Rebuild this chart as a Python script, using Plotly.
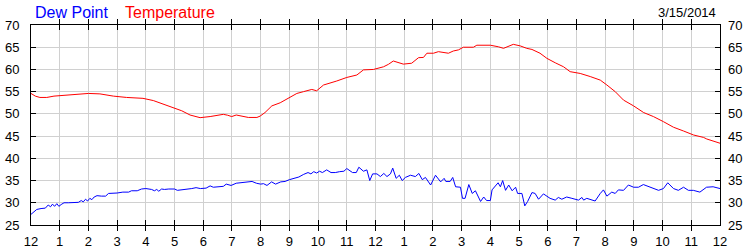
import plotly.graph_objects as go

# ---- data ----
dew_hours = [0.0, 0.1, 0.2, 0.35, 0.5, 0.6, 0.68, 0.75, 0.82, 0.9, 0.97, 1.05, 1.15, 1.3, 1.5, 1.65, 1.75,
             1.82, 1.9, 1.97, 2.05, 2.12, 2.2, 2.3, 2.45, 2.6, 2.7, 2.85, 3.0, 3.2, 3.4, 3.5, 3.7, 3.85,
             4.0, 4.2, 4.3, 4.38, 4.45, 4.55, 4.65, 4.8, 5.0, 5.1, 5.25, 5.4, 5.6, 5.75, 5.9, 6.1, 6.24,
             6.35, 6.55, 6.7, 6.8, 6.97, 7.15, 7.35, 7.5, 7.7, 7.85, 8.0, 8.1, 8.22, 8.38, 8.52, 8.7, 8.85,
             9.0, 9.15, 9.33, 9.5, 9.65, 9.75, 9.85, 9.95, 10.05, 10.15, 10.3, 10.45, 10.6, 10.75, 10.9,
             11.0, 11.2, 11.33, 11.42, 11.58, 11.7, 11.8, 11.9, 12.05, 12.17, 12.29, 12.4, 12.52, 12.6,
             12.72, 12.83, 12.93, 13.04, 13.22, 13.39, 13.51, 13.63, 13.74, 13.92, 14.09, 14.27, 14.39,
             14.45, 14.6, 14.69, 14.79, 14.96, 15.03, 15.12, 15.25, 15.37, 15.48, 15.66, 15.77, 15.87,
             16.0, 16.06, 16.27, 16.35, 16.43, 16.53, 16.64, 16.76, 16.88, 16.95, 17.1, 17.2, 17.3, 17.45,
             17.56, 17.68, 17.85, 17.97, 18.08, 18.26, 18.37, 18.49, 18.66, 18.84, 19.07, 19.19, 19.25,
             19.36, 19.65, 19.83, 19.94, 20.06, 20.23, 20.35, 20.46, 20.64, 20.81, 20.99, 21.16, 21.33,
             21.51, 21.86, 22.03, 22.18, 22.38, 22.55, 22.73, 22.9, 23.07, 23.3, 23.53, 23.76, 24.0]
dew_point = [27.4, 28.0, 28.5, 28.7, 28.8, 29.5, 29.1, 29.7, 29.2, 29.8, 29.2, 29.6, 30.0, 30.0, 30.0, 30.1,
             30.5, 30.2, 30.8, 30.4, 31.0, 30.7, 31.3, 31.6, 31.5, 31.5, 32.1, 32.1, 32.2, 32.4, 32.4, 32.7,
             32.7, 33.1, 33.2, 33.0, 32.7, 33.0, 32.6, 33.1, 33.0, 33.1, 33.1, 32.8, 32.9, 33.1, 33.2, 33.4,
             33.2, 33.3, 33.8, 33.5, 33.6, 33.7, 34.2, 33.9, 34.4, 34.5, 34.7, 34.8, 34.4, 34.2, 34.3, 33.9,
             34.7, 34.2, 34.7, 34.8, 35.2, 35.4, 35.8, 36.4, 36.8, 36.5, 37.0, 36.7, 37.1, 36.8, 37.4, 36.8,
             36.8, 37.0, 37.1, 37.7, 36.8, 36.8, 38.0, 37.1, 37.4, 35.0, 36.5, 36.5, 35.9, 36.6, 35.9, 36.5,
             37.8, 35.5, 36.2, 35.0, 35.7, 36.2, 35.9, 36.6, 35.2, 35.7, 34.0, 36.2, 34.7, 35.5, 34.8, 34.8,
             35.7, 33.6, 33.5, 31.0, 31.0, 34.1, 32.1, 32.7, 30.3, 31.3, 30.5, 30.5, 32.9, 34.5, 33.6, 35.0,
             32.8, 34.0, 32.7, 33.5, 32.1, 32.1, 29.3, 30.3, 32.3, 32.1, 30.8, 32.0, 31.5, 31.0, 30.6, 31.2,
             30.8, 31.3, 31.0, 30.6, 31.2, 30.6, 31.0, 30.4, 32.1, 32.9, 31.5, 32.4, 32.1, 32.9, 32.8, 34.0,
             33.5, 33.5, 34.1, 33.7, 32.8, 33.2, 34.5, 33.2, 32.8, 33.5, 32.8, 32.8, 32.4, 33.5, 33.6, 33.2]

temp_hours = [0.0, 0.15, 0.31, 0.55, 0.8, 1.0, 1.3, 1.6, 2.0, 2.4, 2.87, 3.33, 3.9, 4.26, 4.6, 4.96, 5.25,
              5.54, 5.89, 6.24, 6.7, 6.85, 6.99, 7.15, 7.57, 7.87, 7.98, 8.15, 8.39, 8.68, 8.97, 9.26, 9.49,
              9.78, 9.95, 10.19, 10.65, 11.0, 11.35, 11.58, 11.93, 12.28, 12.45, 12.62, 12.97, 13.26, 13.5,
              13.67, 13.79, 14.02, 14.19, 14.54, 14.71, 14.89, 15.06, 15.41, 15.53, 16.0, 16.28, 16.46,
              16.8, 17.04, 17.27, 17.45, 17.73, 17.97, 18.26, 18.55, 18.78, 19.13, 19.48, 19.83, 20.06,
              20.35, 20.64, 20.99, 21.34, 21.68, 22.03, 22.38, 22.73, 23.08, 23.43, 23.54, 24.0]
temperature = [54.6, 54.0, 53.7, 53.7, 54.0, 54.1, 54.3, 54.5, 54.6, 54.5, 54.0, 53.7, 53.5, 53.0, 52.2,
               51.3, 50.7, 49.75, 49.15, 49.4, 49.9, 49.7, 49.4, 49.75, 49.2, 49.2, 49.5, 50.3, 51.8, 52.5,
               53.5, 54.6, 55.0, 55.5, 55.2, 56.5, 57.4, 58.2, 58.75, 59.9, 60.0, 60.6, 61.15, 61.9, 61.2,
               61.4, 62.65, 62.7, 63.65, 63.65, 64.0, 63.65, 64.15, 64.4, 65.0, 65.0, 65.45, 65.45, 65.1,
               64.75, 65.65, 65.3, 64.75, 64.5, 63.65, 62.5, 61.5, 60.6, 59.5, 59.1, 58.4, 57.6, 56.5, 55.0,
               53.1, 51.8, 50.3, 49.4, 48.25, 47.0, 46.15, 45.25, 44.7, 44.35, 43.4]

hour_ticks = list(range(0, 25))
hour_labels = ["12", "1", "2", "3", "4", "5", "6", "7", "8", "9", "10", "11",
               "12", "1", "2", "3", "4", "5", "6", "7", "8", "9", "10", "11", "12"]
y_ticks = [25, 30, 35, 40, 45, 50, 55, 60, 65, 70]
date_label = "3/15/2014"
series_names = ["Dew Point", "Temperature"]
series_colors = ["#0000ff", "#ff0000"]

FONT = "Liberation Sans, Arial, sans-serif"

fig = go.Figure()
fig.add_trace(go.Scatter(x=dew_hours, y=dew_point, mode="lines", name=series_names[0],
                         line=dict(color=series_colors[0], width=1)))
fig.add_trace(go.Scatter(x=temp_hours, y=temperature, mode="lines", name=series_names[1],
                         line=dict(color=series_colors[1], width=1)))
# invisible trace for right axis
fig.add_trace(go.Scatter(x=[0], y=[25], yaxis="y2", mode="markers", marker=dict(opacity=0),
                         showlegend=False, hoverinfo="skip"))

axis_common = dict(
    showline=True, linecolor="black", linewidth=1,
    ticks="inside", ticklen=5, tickcolor="black", tickwidth=1,
    showgrid=True, gridcolor="#d0d0d0", gridwidth=1,
    tickfont=dict(family=FONT, size=13, color="#000000"),
    zeroline=False, fixedrange=True, automargin=False,
)

fig.update_layout(
    width=750, height=250,
    margin=dict(l=31, r=30, t=25, b=25, autoexpand=False),
    paper_bgcolor="white", plot_bgcolor="white",
    showlegend=False,
    xaxis=dict(range=[0, 24], tickvals=hour_ticks, ticktext=hour_labels,
               mirror="allticks", ticklabelstandoff=4, **axis_common),
    yaxis=dict(range=[25, 70], tickvals=y_ticks, mirror="allticks", ticklabelstandoff=8,
               **axis_common),
    yaxis2=dict(range=[25, 70], tickvals=y_ticks, overlaying="y", side="right",
                showline=False, showgrid=False, ticks="", zeroline=False, ticklabelstandoff=7,
                automargin=False,
                tickfont=dict(family=FONT, size=13, color="#000000")),
)

# place annotations in pixel space
W, H = 750, 250
l, r, t, b = 31, 30, 25, 25
pw, ph = W - l - r, H - t - b
anns = []
specs = [(series_names[0], 33, 12, "left", series_colors[0], 16),
         (series_names[1], 123, 12, "left", series_colors[1], 16),
         (date_label, 718, 13, "right", "#000000", 13)]
for text, px, py, anchor, col, sz in specs:
    anns.append(dict(text=text, x=(px - l) / pw, y=(H - b - py) / ph, xref="paper", yref="paper",
                     xanchor=anchor, yanchor="middle", showarrow=False,
                     font=dict(family=FONT, size=sz, color=col)))
fig.update_layout(annotations=anns)

fig.write_html("out.html")
